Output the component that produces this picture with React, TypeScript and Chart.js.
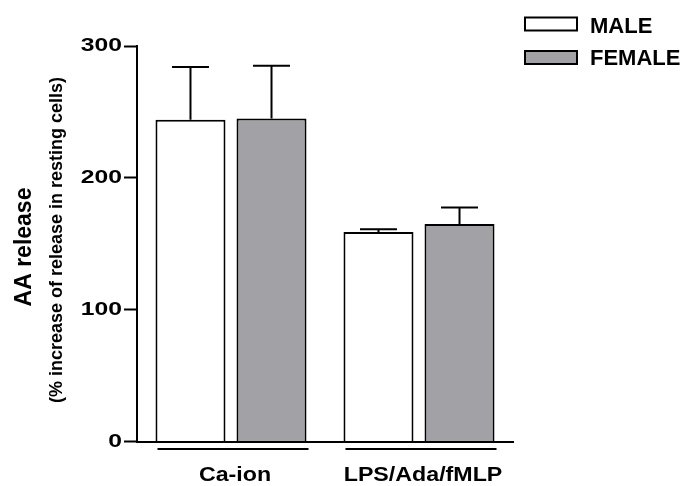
import React, { useEffect, useRef } from 'react';
import { Chart, registerables } from 'chart.js';
Chart.register(...registerables);

const categories = ['Ca-ion', 'LPS/Ada/fMLP'];
const seriesNames = ['MALE', 'FEMALE'];
const maleValues = [244, 159];
const femaleValues = [245, 165];
const maleErrors = [40, 2];
const femaleErrors = [40, 12.5];
const yTickValues = [0, 100, 200, 300];
const yTitle = 'AA release';
const ySubtitle = '(% increase of release in resting cells)';

const FILLS = ['#ffffff', '#a2a1a6'];
const ARIAL = '"Liberation Sans", Arial, sans-serif';

function stretchedText(ctx: any, text: string, x: number, y: number, font: string, sx: number, align: string, baseline: string) {
  ctx.save();
  ctx.translate(x, y);
  ctx.scale(sx, 1);
  ctx.font = font;
  ctx.textAlign = align;
  ctx.textBaseline = baseline;
  ctx.fillStyle = '#000';
  ctx.fillText(text, 0, 0);
  ctx.restore();
}

const decorPlugin = {
  id: 'decor',
  afterDatasetsDraw(chart: any) {
    const ctx = chart.ctx;
    const y = chart.scales.y;
    const area = chart.chartArea;
    const errs = [maleErrors, femaleErrors];
    ctx.save();
    ctx.strokeStyle = '#000';
    ctx.lineWidth = 2;
    // error bars
    chart.data.datasets.forEach((ds: any, di: number) => {
      const meta = chart.getDatasetMeta(di);
      meta.data.forEach((el: any, i: number) => {
        const v = ds.data[i];
        const top = y.getPixelForValue(v + errs[di][i]);
        const half = el.width * 0.264;
        ctx.beginPath();
        ctx.moveTo(el.x, el.y);
        ctx.lineTo(el.x, top);
        ctx.moveTo(el.x - half, top);
        ctx.lineTo(el.x + half, top);
        ctx.stroke();
      });
    });
    // y tick labels
    y.ticks.forEach((t: any) => {
      stretchedText(ctx, String(t.value), 122, y.getPixelForValue(t.value), 'bold 19px ' + ARIAL, 1.3, 'right', 'middle');
    });
    // category underlines and labels
    const m0 = chart.getDatasetMeta(0);
    const m1 = chart.getDatasetMeta(1);
    categories.forEach((c, i) => {
      const a = m0.data[i];
      const b = m1.data[i];
      const left = a.x - a.width / 2 + 2;
      const right = b.x + b.width / 2 + 2;
      const ly = area.bottom + 7.5;
      ctx.beginPath();
      ctx.moveTo(left, ly);
      ctx.lineTo(right, ly);
      ctx.stroke();
      stretchedText(ctx, c, (left + right) / 2 + 2, area.bottom + 39.5, 'bold 19.5px ' + ARIAL, 1.19, 'center', 'alphabetic');
    });
    // y titles
    ctx.fillStyle = '#000';
    ctx.save();
    ctx.translate(30.5, 247);
    ctx.rotate(-Math.PI / 2);
    ctx.font = 'bold 23px ' + ARIAL;
    ctx.textAlign = 'center';
    ctx.textBaseline = 'alphabetic';
    ctx.fillText(yTitle, 0, 0);
    ctx.restore();
    ctx.save();
    ctx.translate(61.5, 240);
    ctx.rotate(-Math.PI / 2);
    ctx.font = 'bold 18px ' + ARIAL;
    ctx.textAlign = 'center';
    ctx.textBaseline = 'alphabetic';
    ctx.fillText(ySubtitle, 0, 0);
    ctx.restore();
    // legend
    const boxTops = [17.5, 51];
    const baselines = [33.3, 65];
    seriesNames.forEach((n, i) => {
      ctx.fillStyle = FILLS[i];
      ctx.fillRect(525, boxTops[i], 52, 13);
      ctx.strokeRect(525, boxTops[i], 52, 13);
      ctx.fillStyle = '#000';
      ctx.font = 'bold 22px ' + ARIAL;
      ctx.textAlign = 'left';
      ctx.textBaseline = 'alphabetic';
      ctx.fillText(n, 590, baselines[i]);
    });
    ctx.restore();
  },
};

export default function App() {
  const ref = useRef<HTMLCanvasElement | null>(null);
  useEffect(() => {
    document.body.style.margin = '0';
    const chart = new Chart(ref.current as HTMLCanvasElement, {
      type: 'bar',
      data: {
        labels: categories,
        datasets: [
          {
            label: seriesNames[0],
            data: maleValues,
            backgroundColor: FILLS[0],
            borderColor: '#000',
            borderWidth: 2,
          },
          {
            label: seriesNames[1],
            data: femaleValues,
            backgroundColor: FILLS[1],
            borderColor: '#000',
            borderWidth: 2,
          },
        ],
      },
      options: {
        responsive: false,
        animation: false,
        layout: { padding: { left: 77, top: 46, right: 174, bottom: 0 } },
        plugins: { legend: { display: false }, tooltip: { enabled: false } },
        datasets: { bar: { categoryPercentage: 0.862, barPercentage: 0.864 } },
        scales: {
          x: {
            grid: { display: false },
            border: { display: true, color: '#000', width: 2 },
            ticks: { display: false },
            afterFit: (s: any) => { s.height = 44.5; },
          },
          y: {
            min: 0,
            max: 300,
            afterBuildTicks: (s: any) => { s.ticks = yTickValues.map((v) => ({ value: v })); },
            ticks: {
              color: 'rgba(0,0,0,0)',
              padding: 3,
              font: { family: ARIAL, size: 19, weight: 'bold' },
            },
            grid: {
              drawOnChartArea: false,
              drawTicks: true,
              tickLength: 13,
              tickColor: '#000',
              tickWidth: 2,
            },
            border: { display: true, color: '#000', width: 2 },
            afterFit: (s: any) => { s.width = 60; },
          },
        },
      } as any,
      plugins: [decorPlugin],
    });
    return () => chart.destroy();
  }, []);
  return (
    <div style={{ position: 'fixed', left: 0, top: 0, width: 687, height: 486, background: '#fff' }}>
      <canvas ref={ref} width={687} height={486} />
    </div>
  );
}
